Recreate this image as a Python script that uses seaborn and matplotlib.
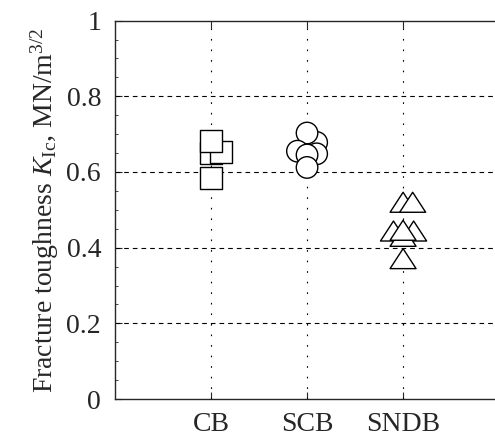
import numpy as np
import pandas as pd
import matplotlib
matplotlib.use("Agg")
import matplotlib.pyplot as plt
from matplotlib.path import Path
import seaborn as sns

# (drawing order kept, shifts = small horizontal offsets)
methods = ["CB", "SCB", "SNDB"]
cb_vals = [0.650, 0.654, 0.682, 0.584]
cb_shift = [0.0, 0.1, 0.0, 0.0]
scb_vals = [0.678, 0.703, 0.655, 0.648, 0.645, 0.612]
scb_shift = [0.1, 0.0, -0.1, 0.1, 0.0, 0.0]
sndb_vals = [0.520, 0.520, 0.444, 0.444, 0.430, 0.446, 0.371]
sndb_shift = [0.0, 0.1, -0.1, 0.11, 0.0, 0.0, 0.0]

rows = []
for i, (m, vals, sh) in enumerate(zip(methods, [cb_vals, scb_vals, sndb_vals],
                                      [cb_shift, scb_shift, sndb_shift])):
    for v, s in zip(vals, sh):
        rows.append({"method": m, "x": i + 1 + s, "K": v})
df = pd.DataFrame(rows)

sns.set_style("ticks")
plt.rcParams["font.family"] = ["Liberation Serif", "DejaVu Serif"]
plt.rcParams["mathtext.fontset"] = "custom"
plt.rcParams["mathtext.it"] = "Liberation Serif:italic"
plt.rcParams["mathtext.rm"] = "Liberation Serif"

fig = plt.figure(figsize=(4.95, 4.41), dpi=100)
ax = fig.add_axes([0.2323, 0.0952, 0.776, 0.858])

# wide open triangle
tri = Path([(0, 1), (-1.3, -1), (1.3, -1), (0, 1)],
           [Path.MOVETO, Path.LINETO, Path.LINETO, Path.CLOSEPOLY])
sns.scatterplot(data=df, x="x", y="K", style="method", size="method",
                markers={"CB": "s", "SCB": "o", "SNDB": tri},
                sizes={"CB": 250, "SCB": 240, "SNDB": 350},
                color="white", edgecolor="black", linewidth=1.0,
                legend=False, ax=ax, zorder=3)

ax.set_xlim(0, 4)
ax.set_ylim(0, 1)
ax.set_xticks([1, 2, 3])
ax.set_xticklabels(methods)
ax.set_yticks([0, 0.2, 0.4, 0.6, 0.8, 1.0])
ax.set_yticklabels(["0", "0.2", "0.4", "0.6", "0.8", "1"])
ax.set_yticks(np.arange(0, 1.0001, 0.05), minor=True)

for y in [0.2, 0.4, 0.6, 0.8]:
    ax.axhline(y, color="black", lw=0.8, ls=(0, (4.2, 3.6)), zorder=1)
for x in [1, 2, 3]:
    ax.axvline(x, color="black", lw=0.8, ls=(0, (1.5, 8)), zorder=1)

ax.tick_params(axis="both", which="major", direction="in", length=5,
               width=0.8, labelsize=20, top=True, right=False)
ax.tick_params(axis="y", which="minor", direction="in", length=2.5, width=0.6)
ax.tick_params(axis="x", which="major", pad=9)
ax.tick_params(axis="y", which="major", pad=10)
for sp in ax.spines.values():
    sp.set_linewidth(1.0)

ax.set_xlabel("")
ax.set_ylabel(r"Fracture toughness $K_{\mathrm{Ic}}$, MN/m$^{3/2}$", fontsize=20,
              labelpad=4)

fig.savefig("out.png", dpi=100)
